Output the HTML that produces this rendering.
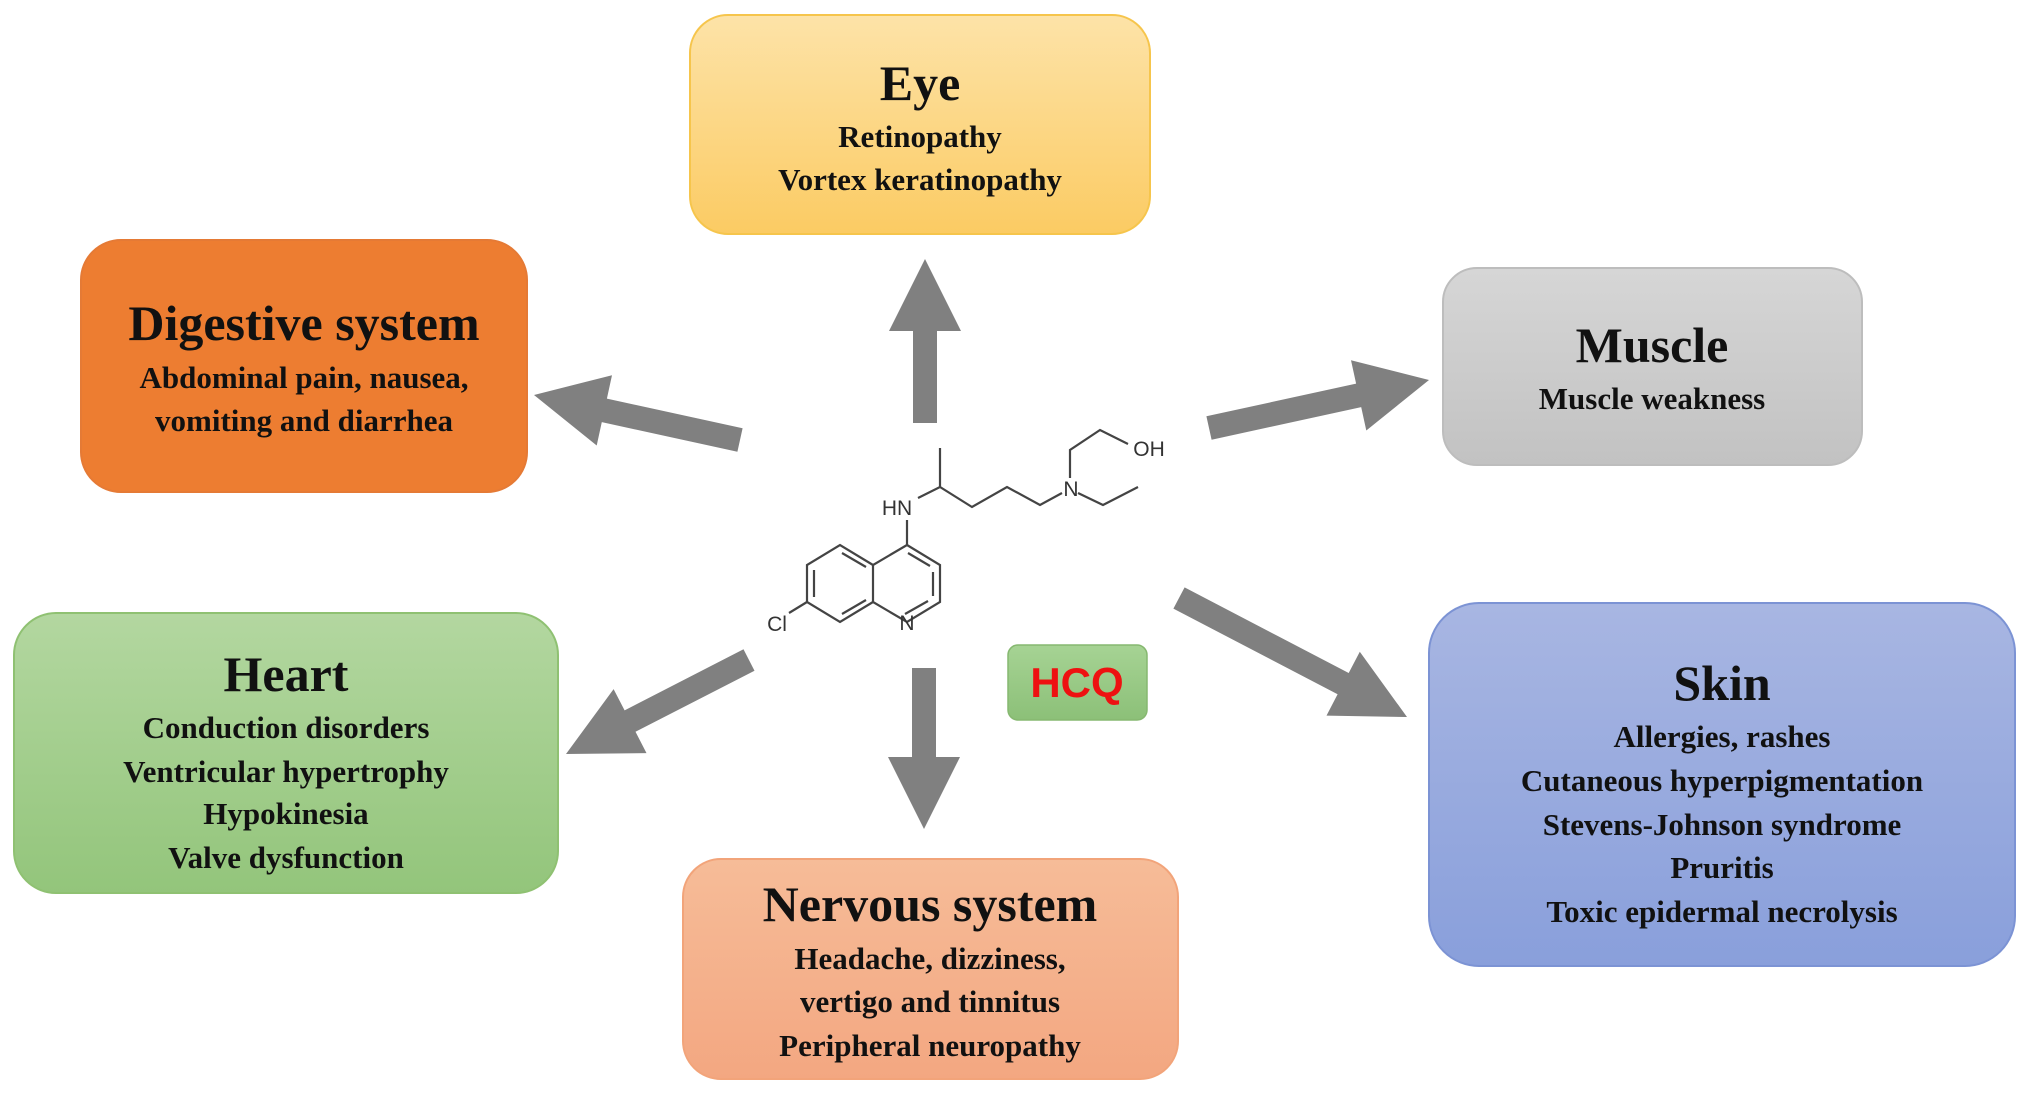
<!DOCTYPE html>
<html><head><meta charset="utf-8"><style>
html,body{margin:0;padding:0;background:#fff;}
svg{display:block}
.t{font-family:"Liberation Serif",serif;font-weight:bold;fill:#111;text-anchor:middle}
.h{font-size:50px}
.b{font-size:31px}
.m{stroke:#444;stroke-width:2.2;fill:none}
.ml{font-family:"Liberation Sans",sans-serif;font-size:21px;fill:#333;text-anchor:middle}
</style></head><body>
<svg width="2031" height="1094" viewBox="0 0 2031 1094" xmlns="http://www.w3.org/2000/svg">
<defs>
<linearGradient id="gEye" x1="0" y1="0" x2="0" y2="1"><stop offset="0" stop-color="#fde3a8"/><stop offset="1" stop-color="#fbcb63"/></linearGradient>
<linearGradient id="gMus" x1="0" y1="0" x2="0" y2="1"><stop offset="0" stop-color="#d6d6d6"/><stop offset="1" stop-color="#c2c2c2"/></linearGradient>
<linearGradient id="gHea" x1="0" y1="0" x2="0" y2="1"><stop offset="0" stop-color="#b3d7a0"/><stop offset="1" stop-color="#93c57b"/></linearGradient>
<linearGradient id="gNer" x1="0" y1="0" x2="0" y2="1"><stop offset="0" stop-color="#f6bc98"/><stop offset="1" stop-color="#f3a781"/></linearGradient>
<linearGradient id="gSki" x1="0" y1="0" x2="0" y2="1"><stop offset="0" stop-color="#a8b6e2"/><stop offset="1" stop-color="#899fdb"/></linearGradient>
<linearGradient id="gHcq" x1="0" y1="0" x2="0" y2="1"><stop offset="0" stop-color="#a6d394"/><stop offset="1" stop-color="#8cc078"/></linearGradient>
</defs>

<!-- boxes -->
<rect x="690" y="15" width="460" height="219" rx="38" fill="url(#gEye)" stroke="#f6c54c" stroke-width="2"/>
<rect x="81" y="240" width="446" height="252" rx="40" fill="#ed7d31" stroke="#e57a35" stroke-width="2"/>
<rect x="1443" y="268" width="419" height="197" rx="34" fill="url(#gMus)" stroke="#bdbdbd" stroke-width="2"/>
<rect x="14" y="613" width="544" height="280" rx="42" fill="url(#gHea)" stroke="#8fc172" stroke-width="2"/>
<rect x="683" y="859" width="495" height="220" rx="38" fill="url(#gNer)" stroke="#f2a47a" stroke-width="2"/>
<rect x="1429" y="603" width="586" height="363" rx="50" fill="url(#gSki)" stroke="#7c93d4" stroke-width="2"/>
<rect x="1008" y="645" width="139" height="75" rx="10" fill="url(#gHcq)" stroke="#86b870" stroke-width="1.5"/>

<!-- texts -->
<text class="t h" x="920" y="100">Eye</text>
<text class="t b" x="920" y="147">Retinopathy</text>
<text class="t b" x="920" y="190">Vortex keratinopathy</text>

<text class="t h" x="304" y="340">Digestive system</text>
<text class="t b" x="304" y="388">Abdominal pain, nausea,</text>
<text class="t b" x="304" y="431">vomiting and diarrhea</text>

<text class="t h" x="1652" y="362">Muscle</text>
<text class="t b" x="1652" y="409">Muscle weakness</text>

<text class="t h" x="286" y="691">Heart</text>
<text class="t b" x="286" y="738">Conduction disorders</text>
<text class="t b" x="286" y="782">Ventricular hypertrophy</text>
<text class="t b" x="286" y="824">Hypokinesia</text>
<text class="t b" x="286" y="868">Valve dysfunction</text>

<text class="t h" x="930" y="921">Nervous system</text>
<text class="t b" x="930" y="969">Headache, dizziness,</text>
<text class="t b" x="930" y="1012">vertigo and tinnitus</text>
<text class="t b" x="930" y="1056">Peripheral neuropathy</text>

<text class="t h" x="1722" y="700">Skin</text>
<text class="t b" x="1722" y="747">Allergies, rashes</text>
<text class="t b" x="1722" y="791">Cutaneous hyperpigmentation</text>
<text class="t b" x="1722" y="835">Stevens-Johnson syndrome</text>
<text class="t b" x="1722" y="878">Pruritis</text>
<text class="t b" x="1722" y="922">Toxic epidermal necrolysis</text>

<text x="1077" y="697" font-family="Liberation Sans, sans-serif" font-weight="bold" font-size="42" fill="#ee1111" text-anchor="middle">HCQ</text>

<!-- arrows -->
<g fill="#808080" id="arrows"></g>

<!-- molecule -->
<g class="m">
<polyline points="907,545 940,565 940,602 907,622 873,602 873,565 907,545"/>
<line x1="933" y1="572" x2="933" y2="596"/>
<line x1="908" y1="553" x2="930" y2="566"/>
<line x1="905" y1="614" x2="928" y2="601"/>
<polyline points="873,565 840,545 807,565 807,602 840,622 873,602"/>
<line x1="814" y1="570" x2="814" y2="597"/>
<line x1="842" y1="553" x2="866" y2="567"/>
<line x1="842" y1="614" x2="866" y2="600"/>
<line x1="807" y1="602" x2="789" y2="613"/>
<line x1="907" y1="545" x2="907" y2="520"/>
<polyline points="918,498 940,487 972,507 1007,487 1040,505 1062,493"/>
<line x1="940" y1="487" x2="940" y2="448"/>
<polyline points="1070,478 1070,450 1100,430 1128,444"/>
<polyline points="1078,493 1103,505 1138,487"/>
</g>
<text class="ml" x="897" y="515">HN</text>
<text class="ml" x="907" y="630">N</text>
<text class="ml" x="777" y="631">Cl</text>
<text class="ml" x="1071" y="496">N</text>
<text class="ml" x="1149" y="456">OH</text>
</svg>
<script>
(function(){
var A=[[925,423,925,259],[740,440,534,395],[1209,428,1429,380],[749,660,566,754],[924,668,924,829],[1179,598,1407,717]];
var g=document.getElementById('arrows');var sw=12,hw=36,hl=72;
A.forEach(function(a){var x1=a[0],y1=a[1],x2=a[2],y2=a[3];var dx=x2-x1,dy=y2-y1,L=Math.sqrt(dx*dx+dy*dy);var ux=dx/L,uy=dy/L,px=-uy,py=ux;
var bx=x2-ux*hl,by=y2-uy*hl;
var p=[[x1+px*sw,y1+py*sw],[bx+px*sw,by+py*sw],[bx+px*hw,by+py*hw],[x2,y2],[bx-px*hw,by-py*hw],[bx-px*sw,by-py*sw],[x1-px*sw,y1-py*sw]];
var e=document.createElementNS('http://www.w3.org/2000/svg','polygon');e.setAttribute('points',p.map(function(q){return q[0].toFixed(1)+','+q[1].toFixed(1)}).join(' '));g.appendChild(e);});
})();
</script>
</body></html>
